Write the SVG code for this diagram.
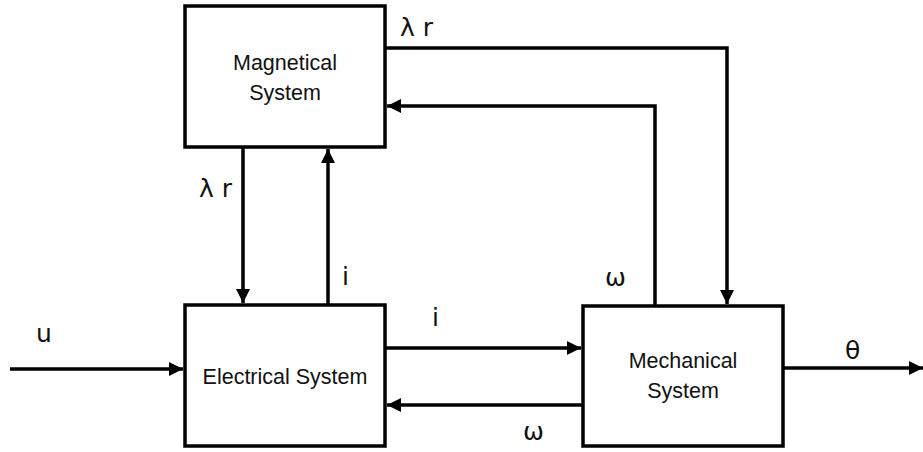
<svg xmlns="http://www.w3.org/2000/svg" width="923" height="452" viewBox="0 0 923 452">
<defs>
<style>
.box{fill:#fff;stroke:#000;stroke-width:3.5}
.ln{fill:none;stroke:#000;stroke-width:3.5}
.t{font-family:"Liberation Sans",Arial,sans-serif;font-size:21.5px;fill:#111;text-anchor:middle}
.lb{font-family:"DejaVu Sans","Liberation Sans",sans-serif;font-size:25px;fill:#111}
</style>
<marker id="ah" viewBox="0 0 14 14" refX="14" refY="7" markerWidth="14" markerHeight="14" markerUnits="userSpaceOnUse" orient="auto">
<path d="M0,0 L14,7 L0,14 Z" fill="#000"/>
</marker>
</defs>
<g id="connectors">
<path class="ln" d="M10,369 H183" marker-end="url(#ah)"/>
<path class="ln" d="M243,147 V303" marker-end="url(#ah)"/>
<path class="ln" d="M328,305 V149" marker-end="url(#ah)"/>
<path class="ln" d="M385,48 H727 V304" marker-end="url(#ah)"/>
<path class="ln" d="M655,305 V106 H387" marker-end="url(#ah)"/>
<path class="ln" d="M385,348 H581" marker-end="url(#ah)"/>
<path class="ln" d="M583,405 H387" marker-end="url(#ah)"/>
<path class="ln" d="M783,368 H923" marker-end="url(#ah)"/>
</g>
<g id="magnetical">
<rect class="box" x="185" y="6" width="200" height="141"/>
<text class="t" x="285" y="70">Magnetical</text>
<text class="t" x="285" y="100">System</text>
</g>
<g id="electrical">
<rect class="box" x="185" y="305" width="200" height="141"/>
<text class="t" x="285" y="384">Electrical System</text>
</g>
<g id="mechanical">
<rect class="box" x="583" y="306" width="200" height="140"/>
<text class="t" x="683" y="368">Mechanical</text>
<text class="t" x="683" y="398">System</text>
</g>
<g id="labels">
<text class="lb" x="400" y="36">λ r</text>
<text class="lb" x="199" y="197">λ r</text>
<text class="lb" x="342" y="285">i</text>
<text class="lb" x="432" y="326">i</text>
<text class="lb" x="605" y="286">ω</text>
<text class="lb" x="523" y="440">ω</text>
<text class="lb" x="845" y="359">θ</text>
<text class="lb" x="36" y="342">u</text>
</g>
</svg>
